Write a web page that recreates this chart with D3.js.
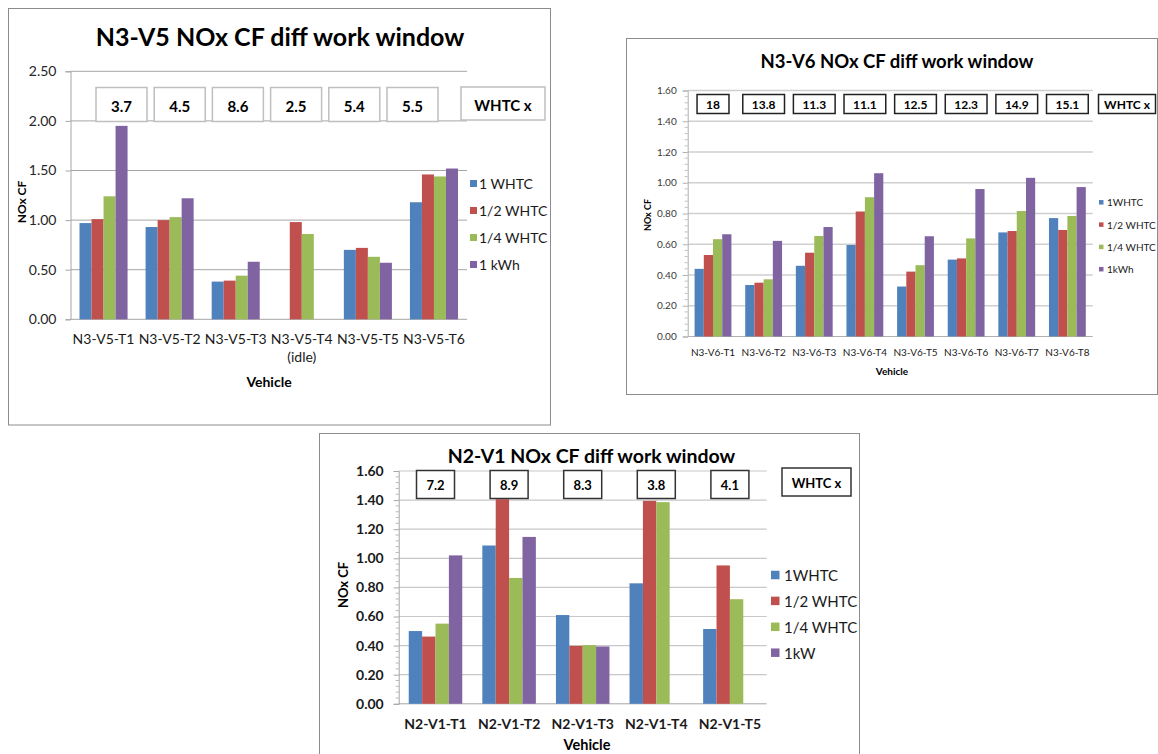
<!DOCTYPE html>
<html><head><meta charset="utf-8">
<script src="https://cdn.jsdelivr.net/npm/d3@7"></script>
<style>body{margin:0;background:#fff;} svg{display:block;font-family:Lato,'Open Sans',sans-serif;}</style>
</head><body><svg id="c" width="1158" height="754"></svg>
<script>
// ---------- Chart 1 : N3-V5 ----------
const catsV5 = ["N3-V5-T1","N3-V5-T2","N3-V5-T3","N3-V5-T4|(idle)","N3-V5-T5","N3-V5-T6"];
const seriesV5 = ["1 WHTC","1/2 WHTC","1/4 WHTC","1 kWh"];
const v5Whtc1 = [0.97, 0.93, 0.38, null, 0.70, 1.18];
const v5Whtc2 = [1.01, 1.00, 0.39, 0.98, 0.72, 1.46];
const v5Whtc4 = [1.24, 1.03, 0.44, 0.86, 0.63, 1.44];
const v5Kwh   = [1.95, 1.22, 0.58, null, 0.57, 1.52];
const boxesV5 = ["3.7","4.5","8.6","2.5","5.4","5.5"];
const ticksV5 = [0, 0.5, 1.0, 1.5, 2.0, 2.5];

// ---------- Chart 2 : N3-V6 ----------
const catsV6 = ["N3-V6-T1","N3-V6-T2","N3-V6-T3","N3-V6-T4","N3-V6-T5","N3-V6-T6","N3-V6-T7","N3-V6-T8"];
const seriesV6 = ["1WHTC","1/2 WHTC","1/4 WHTC","1kWh"];
const v6Whtc1 = [0.44, 0.335, 0.46, 0.595, 0.325, 0.50, 0.677, 0.77];
const v6Whtc2 = [0.53, 0.35, 0.545, 0.813, 0.422, 0.508, 0.686, 0.693];
const v6Whtc4 = [0.633, 0.372, 0.654, 0.906, 0.464, 0.638, 0.816, 0.784];
const v6Kwh   = [0.665, 0.622, 0.712, 1.062, 0.652, 0.959, 1.032, 0.972];
const boxesV6 = ["18","13.8","11.3","11.1","12.5","12.3","14.9","15.1"];
const ticksV6 = [0, 0.2, 0.4, 0.6, 0.8, 1.0, 1.2, 1.4, 1.6];

// ---------- Chart 3 : N2-V1 ----------
const catsV1 = ["N2-V1-T1","N2-V1-T2","N2-V1-T3","N2-V1-T4","N2-V1-T5"];
const seriesV1 = ["1WHTC","1/2 WHTC","1/4 WHTC","1kW"];
const v1Whtc1 = [0.50, 1.088, 0.61, 0.828, 0.514];
const v1Whtc2 = [0.462, 1.406, 0.398, 1.395, 0.951];
const v1Whtc4 = [0.551, 0.865, 0.403, 1.386, 0.719];
const v1Kw    = [1.02, 1.147, 0.394, null, null];
const boxesV1 = ["7.2","8.9","8.3","3.8","4.1"];
const ticksV1 = [0, 0.2, 0.4, 0.6, 0.8, 1.0, 1.2, 1.4, 1.6];

const boxLabel = "WHTC x";
const colors = ["#4f81bd","#c0504d","#9bbb59","#8064a2"];

const svg = d3.select("#c");

function drawChart(cfg){
  const g = svg.append("g");
  const f = cfg.frame;
  g.append("rect").attr("x",f[0]).attr("y",f[1]).attr("width",f[2]).attr("height",f[3])
    .attr("fill","#fff").attr("stroke","#8c8c8c").attr("stroke-width",1);

  const y = d3.scaleLinear().domain([0, cfg.yMax]).range([cfg.y0, cfg.y1]);
  const x0 = d3.scaleBand().domain(cfg.cats).range([cfg.left, cfg.right])
    .paddingInner(1.5/5.5).paddingOuter(0.75/5.5);
  const x1 = d3.scaleBand().domain(d3.range(cfg.series.length)).range([0, x0.bandwidth()]);

  // gridlines
  g.append("g").selectAll("line").data(cfg.ticks.filter(t=>t>0)).join("line")
    .attr("x1",cfg.left).attr("x2",cfg.right)
    .attr("y1",d=>y(d)).attr("y2",d=>y(d))
    .attr("stroke",cfg.gridColor).attr("stroke-width",cfg.gridWidth);

  // minor ticks
  if(cfg.minor){
    const step = cfg.ticks[1]-cfg.ticks[0];
    const minors = [];
    for(let i=0;i<cfg.ticks.length-1;i++){
      for(let k=1;k<cfg.minor;k++) minors.push(cfg.ticks[i]+step*k/cfg.minor);
    }
    g.append("g").selectAll("line").data(minors).join("line")
      .attr("x1",cfg.left-3).attr("x2",cfg.left)
      .attr("y1",d=>y(d)).attr("y2",d=>y(d))
      .attr("stroke",cfg.axisColor).attr("stroke-width",0.8);
  }

  // y axis
  const ya = g.append("g").attr("transform",`translate(${cfg.left},0)`)
    .call(d3.axisLeft(y).tickValues(cfg.ticks).tickFormat(d3.format(".2f"))
      .tickSize(5).tickPadding(cfg.tick.pad));
  ya.select(".domain").attr("stroke",cfg.axisColor);
  ya.selectAll(".tick line").attr("stroke",cfg.axisColor);
  ya.selectAll(".tick text").attr("font-family","Lato,'Open Sans',sans-serif")
    .attr("font-size",cfg.tick.size).attr("font-weight",cfg.tick.weight).attr("fill",cfg.tick.color);

  // baseline
  g.append("line").attr("x1",cfg.left).attr("x2",cfg.right)
    .attr("y1",y(0)).attr("y2",y(0)).attr("stroke",cfg.axisColor).attr("stroke-width",1);

  // bars
  const vals = cfg.values;
  vals.forEach((arr,si)=>{
    g.append("g").selectAll("rect").data(arr.map((v,ci)=>({v,c:cfg.cats[ci]})).filter(d=>d.v!=null))
      .join("rect")
      .attr("x",d=>x0(d.c)+x1(si)).attr("width",x1.bandwidth())
      .attr("y",d=>y(d.v)).attr("height",d=>y(0)-y(d.v))
      .attr("fill",colors[si]);
  });

  // category labels
  const cl = g.append("g");
  cfg.cats.forEach(c=>{
    const parts = c.split("|");
    const t = cl.append("text").attr("text-anchor","middle")
      .attr("font-size",cfg.cat.size).attr("font-weight",cfg.cat.weight).attr("fill","#1a1a1a");
    parts.forEach((p,i)=>{
      t.append("tspan").attr("x",x0(c)+x0.bandwidth()/2)
        .attr("y",cfg.cat.y + i*cfg.cat.lineH).text(p);
    });
  });

  // titles
  g.append("text").attr("x",cfg.title.x).attr("y",cfg.title.y).attr("text-anchor","middle")
    .attr("font-size",cfg.title.size).attr("font-weight",700).attr("fill","#000").text(cfg.title.text);
  g.append("text").attr("x",cfg.xTitle.x).attr("y",cfg.xTitle.y).attr("text-anchor","middle")
    .attr("dominant-baseline","central")
    .attr("font-size",cfg.xTitle.size).attr("font-weight",700).attr("fill","#000").text("Vehicle");
  g.append("text").attr("transform",`translate(${cfg.yTitle.x},${cfg.yTitle.y}) rotate(-90)`)
    .attr("text-anchor","middle").attr("dominant-baseline","central")
    .attr("font-size",cfg.yTitle.size).attr("font-weight",700).attr("fill","#000").text("NOx CF");

  // legend
  const lg = g.append("g");
  cfg.series.forEach((s,i)=>{
    const cy = cfg.legend.y + i*cfg.legend.dy;
    lg.append("rect").attr("x",cfg.legend.x).attr("y",cy-cfg.legend.mk/2)
      .attr("width",cfg.legend.mk).attr("height",cfg.legend.mk).attr("fill",colors[i]);
    lg.append("text").attr("x",cfg.legend.x+cfg.legend.gap).attr("y",cy)
      .attr("dominant-baseline","central").attr("font-size",cfg.legend.size)
      .attr("fill","#1a1a1a").text(s);
  });

  // annotation boxes
  const bg = g.append("g");
  const bx = cfg.box;
  cfg.boxes.forEach((b,i)=>{
    const cx = bx.centers ? bx.centers(i) : x0(cfg.cats[i]) + x0.bandwidth()/2;
    const t = bg.append("text").attr("x",cx).attr("y",bx.y+bx.h/2+bx.dy)
      .attr("text-anchor","middle").attr("dominant-baseline","central")
      .attr("font-size",bx.size).attr("font-weight",700).attr("fill","#000").text(b);
    const w = bx.w ? bx.w : t.node().getComputedTextLength() + bx.padW;
    bg.insert("rect","text").attr("x",cx-w/2).attr("y",bx.y).attr("width",w).attr("height",bx.h)
      .attr("fill","#fff").attr("stroke",bx.stroke).attr("stroke-width",bx.sw);
  });
  const wb = cfg.whtc;
  bg.append("rect").attr("x",wb.x).attr("y",wb.y).attr("width",wb.w).attr("height",wb.h)
    .attr("fill","#fff").attr("stroke",bx.stroke).attr("stroke-width",bx.sw);
  bg.append("text").attr("x",wb.x+wb.w/2).attr("y",wb.y+wb.h/2+bx.dy)
    .attr("text-anchor","middle").attr("dominant-baseline","central")
    .attr("font-size",bx.size).attr("font-weight",700).attr("fill","#000").text(boxLabel);
}

drawChart({
  frame:[8.5,8.5,542,416.5],
  cats:catsV5, series:seriesV5, values:[v5Whtc1,v5Whtc2,v5Whtc4,v5Kwh],
  boxes:boxesV5, ticks:ticksV5, yMax:2.5,
  left:70.5, right:467, y0:319.3, y1:71.3, minor:0,
  gridColor:"#a6a6a6", gridWidth:1, axisColor:"#a6a6a6",
  tick:{size:14, weight:400, color:"#262626", pad:9},
  cat:{size:14, weight:400, y:344, lineH:18},
  title:{text:"N3-V5 NOx CF diff work window", x:280, y:46, size:25},
  xTitle:{x:269, y:381, size:14},
  yTitle:{x:21.5, y:202, size:12},
  legend:{x:470, y:183.5, dy:27, size:14, mk:7, gap:9},
  box:{y:87.5, h:34, w:51, size:15, dy:1, stroke:"#bfbfbf", sw:1.5,
       centers:d3.scaleLinear().domain([0,5]).range([121.5,412.5])},
  whtc:{x:461, y:87, w:84, h:33}
});

drawChart({
  frame:[626.5,38.5,531,356],
  cats:catsV6, series:seriesV6, values:[v6Whtc1,v6Whtc2,v6Whtc4,v6Kwh],
  boxes:boxesV6, ticks:ticksV6, yMax:1.6,
  left:687.7, right:1092.7, y0:336.5, y1:90.5, minor:5,
  gridColor:"#cfcfcf", gridWidth:1.3, axisColor:"#b0b0b0",
  tick:{size:10, weight:400, color:"#3a3a3a", pad:6},
  cat:{size:10, weight:400, y:355.5, lineH:12},
  title:{text:"N3-V6 NOx CF diff work window", x:897, y:68, size:18.5},
  xTitle:{x:892, y:371, size:10},
  yTitle:{x:647, y:215, size:9},
  legend:{x:1099, y:202.3, dy:22.3, size:10, mk:4.5, gap:8},
  box:{y:94.5, h:19, w:0, padW:18, size:12, dy:0.5, stroke:"#222", sw:1.5},
  whtc:{x:1098.5, y:94.5, w:57, h:19}
});

drawChart({
  frame:[319.5,433.5,540,340],
  cats:catsV1, series:seriesV1, values:[v1Whtc1,v1Whtc2,v1Whtc4,v1Kw],
  boxes:boxesV1, ticks:ticksV1, yMax:1.6,
  left:398.7, right:766.7, y0:703.8, y1:471, minor:5,
  gridColor:"#c8c8c8", gridWidth:1.2, axisColor:"#a6a6a6",
  tick:{size:14, weight:700, color:"#1a1a1a", pad:10},
  cat:{size:14, weight:700, y:729, lineH:16},
  title:{text:"N2-V1 NOx CF diff work window", x:591.5, y:462.5, size:19.5},
  xTitle:{x:587, y:744.5, size:14.5},
  yTitle:{x:343, y:585, size:13},
  legend:{x:771, y:575, dy:25.9, size:15, mk:8.5, gap:13},
  box:{y:470.5, h:28, w:38, size:13, dy:0.5, stroke:"#333", sw:1.5},
  whtc:{x:782, y:468, w:69, h:28}
});
</script></body></html>
